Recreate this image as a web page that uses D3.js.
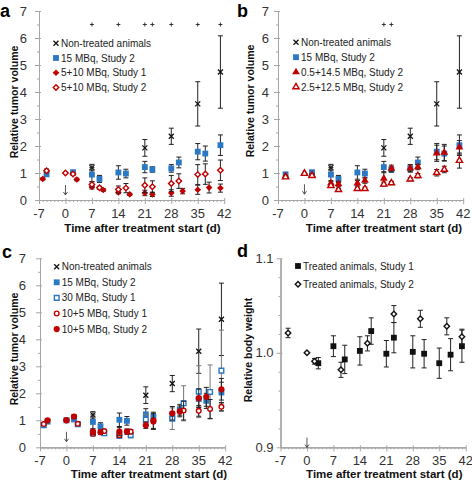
<!DOCTYPE html>
<html><head><meta charset="utf-8">
<script src="https://cdn.jsdelivr.net/npm/d3@7"></script>
<style>
body{margin:0;background:#fff;}
svg{display:block;font-family:"Liberation Sans",Arial,sans-serif;}
</style></head><body>
<svg id="chart" width="472" height="481"></svg>
<script>
// ---------- tick labels ----------
const xTicks = [-7, 0, 7, 14, 21, 28, 35, 42];
const yTicksTumor = [0, 1, 2, 3, 4, 5, 6, 7];
const yTicksWeight = [0.9, 1.0, 1.1];

// ---------- shared series ----------
const nonTreatedDays = [7, 21, 28, 35, 41];
const nonTreated = [1.2, 1.93, 2.36, 3.56, 4.74];
const nonTreatedErr = [0.12, 0.31, 0.3, 0.82, 1.34];

const study2Days = [-5, 2, 7, 9, 14, 16, 21, 23, 28, 30, 35, 37, 41];
const mbq15 = [0.95, 1.03, 0.94, 0.78, 1.02, 0.98, 1.22, 1.13, 1.17, 1.39, 1.79, 1.72, 2.03];
const mbq15Err = [0.05, 0.05, 0.26, 0.13, 0.25, 0.16, 0.21, 0.1, 0.14, 0.2, 0.3, 0.28, 0.38];

// ---------- panel a ----------
const aS1Days = [-6, 3, 7, 10, 14, 17, 21, 23, 28, 31, 35, 38, 41];
const aS1 = [0.78, 0.76, 0.48, 0.37, 0.28, 0.21, 0.26, 0.21, 0.26, 0.33, 0.38, 0.46, 0.44];
const aS1Err = [0.04, 0.05, 0.07, 0.05, 0.05, 0.04, 0.1, 0.08, 0.12, 0.1, 0.17, 0.2, 0.15];
const aS2Days = [-5, 0, 2, 7, 9, 14, 16, 21, 23, 28, 30, 35, 37, 41];
const aS2 = [1.08, 1.0, 0.96, 0.57, 0.45, 0.39, 0.44, 0.55, 0.49, 0.61, 0.7, 0.94, 0.96, 1.1];
const aS2Err = [0.07, 0, 0.05, 0.1, 0.06, 0.13, 0.17, 0.27, 0.22, 0.3, 0.27, 0.37, 0.38, 0.38];
const aSigDays = [7, 14, 21, 23, 28, 35, 41];

// ---------- panel b ----------
const bDays = [-5, 0, 2, 7, 9, 14, 16, 21, 23, 28, 30, 35, 37, 41];
const b05 = [0.88, 1.0, 0.93, 0.62, 0.59, 0.62, 0.72, 0.8, 1.17, 1.18, 1.22, 1.73, 1.76, 1.95];
const b05Err = [0.03, 0, 0.05, 0.1, 0.1, 0.1, 0.1, 0.25, 0.12, 0.12, 0.1, 0.3, 0.3, 0.25];
const b25 = [0.85, 0.98, 0.9, 0.53, 0.38, 0.42, 0.42, 0.58, 0.63, 0.77, 0.9, 1.01, 1.13, 1.46];
const b25Err = [0.03, 0, 0.04, 0.06, 0.05, 0.06, 0.06, 0.08, 0.06, 0.06, 0.08, 0.12, 0.12, 0.28];
const bSigDays = [21, 23];

// ---------- panel c ----------
const c30Days = [-6, 0, 3, 7, 10, 14, 17, 21, 28, 31, 35, 38, 41];
const c30 = [0.82, 1.0, 0.86, 0.52, 0.52, 0.43, 0.45, 1.02, 1.06, 1.63, 2.06, 2.05, 2.84];
const c30Err = [0.04, 0, 0.05, 0.08, 0.08, 0.1, 0.1, 0.2, 0.4, 0.65, 0.96, 1.0, 1.5];
const c105S1Days = [-6, 0, 3, 7, 10, 14, 17, 23, 31, 35, 38, 41];
const c105S1 = [0.86, 1.0, 0.87, 0.5, 0.6, 0.45, 0.58, 1.0, 1.36, 1.35, 1.42, 1.5];
const c105S1Err = [0.03, 0, 0.04, 0.08, 0.06, 0.08, 0.08, 0.3, 0.35, 0.2, 0.35, 0.15];
const c105S2Days = [-5, 0, 2, 7, 9, 14, 16, 21, 23, 28, 30, 35, 37, 41];
const c105S2 = [1.0, 1.0, 1.14, 0.58, 0.56, 0.58, 0.58, 0.82, 0.96, 1.26, 1.33, 1.82, 1.87, 2.15];
const c105S2Err = [0.05, 0, 0.07, 0.1, 0.08, 0.15, 0.1, 0.12, 0.3, 0.25, 0.2, 0.35, 0.35, 0.4];

// ---------- panel d ----------
const dS1Days = [3, 7, 10, 14, 17, 21, 23, 28, 31, 35, 38, 41];
const dS1 = [0.989, 1.007, 0.993, 1.002, 1.023, 0.999, 1.016, 1.001, 0.999, 0.989, 0.998, 1.007];
const dS1Err = [0.006, 0.011, 0.015, 0.015, 0.014, 0.014, 0.016, 0.017, 0.015, 0.016, 0.017, 0.017];
const dS2Days = [-5, 0, 2, 9, 16, 23, 30, 37, 41];
const dS2 = [1.021, 1.0, 0.991, 0.982, 1.010, 1.041, 1.036, 1.028, 1.017];
const dS2Err = [0.005, 0, 0.003, 0.008, 0.008, 0.009, 0.009, 0.009, 0.008];

// ---------- styling ----------
const BLUE = "#2B78C5", RED = "#C00000", BLACK = "#111";
const AXIS = "#A6A6A6", TXT = "#333";

function ser(label, days, vals, errs, marker, color, errColor) {
  return {label, pts: days.map((d, i) => ({d, v: vals[i], e: errs[i]})), marker, color, errColor: errColor || "#222"};
}

const svg = d3.select("#chart");

function drawMarker(g, type, cx, cy, color) {
  const open = type.endsWith("Open");
  const base = type.replace("Open", "");
  if (base === "x") {
    const s = 2.5;
    g.append("path").attr("d", `M${cx - s},${cy - s}L${cx + s},${cy + s}M${cx - s},${cy + s}L${cx + s},${cy - s}`)
      .attr("stroke", color).attr("stroke-width", 1.3).attr("fill", "none");
    return;
  }
  let sym, size, rot = 0;
  if (base === "square") { sym = d3.symbolSquare; size = open ? 22 : 34; }
  else if (base === "diamond") { sym = d3.symbolSquare; size = open ? 15 : 22; rot = 45; }
  else if (base === "triangle") { sym = d3.symbolTriangle; size = open ? 17 : 26; }
  else { sym = d3.symbolCircle; size = open ? 17 : 30; }
  const p = g.append("path").attr("d", d3.symbol(sym, size)())
    .attr("transform", `translate(${cx},${cy}) rotate(${rot})`);
  if (open) p.attr("fill", "#fff").attr("stroke", color).attr("stroke-width", 1.4);
  else p.attr("fill", color);
}

function panel(cfg) {
  const g = svg.append("g");
  const x = d3.scaleLinear().domain([-7, 42]).range([cfg.x0, cfg.x0 + 185.2]);
  const y = d3.scaleLinear().domain(cfg.yDomain).range([cfg.yBottom, cfg.yTop]);

  // x axis
  const minorX = d3.range(-7, 43).filter(d => !xTicks.includes(d));
  g.append("g").attr("transform", `translate(0,${cfg.yBottom})`)
    .call(d3.axisBottom(x).tickValues(minorX).tickSize(2).tickSizeOuter(0).tickFormat(""));
  g.append("g").attr("transform", `translate(0,${cfg.yBottom})`)
    .call(d3.axisBottom(x).tickValues(xTicks).tickSize(-2).tickSizeOuter(0).tickFormat(""));
  g.append("g").attr("transform", `translate(0,${cfg.yBottom})`)
    .call(d3.axisBottom(x).tickValues(xTicks).tickSize(4).tickSizeOuter(0).tickFormat(""));
  // y axis
  g.append("g").attr("transform", `translate(${cfg.x0},0)`)
    .call(d3.axisLeft(y).tickValues(cfg.yMinor).tickSize(2).tickSizeOuter(0).tickFormat(""));
  g.append("g").attr("transform", `translate(${cfg.x0},0)`)
    .call(d3.axisLeft(y).tickValues(cfg.yTicks).tickSize(-2).tickSizeOuter(0).tickFormat(""));
  g.append("g").attr("transform", `translate(${cfg.x0},0)`)
    .call(d3.axisLeft(y).tickValues(cfg.yTicks).tickSize(4).tickSizeOuter(0).tickFormat(""));
  g.selectAll(".domain").attr("stroke", AXIS);
  g.selectAll(".tick line").attr("stroke", AXIS);

  // tick labels
  g.append("g").selectAll("text").data(xTicks).join("text")
    .attr("x", d => x(d)).attr("y", cfg.yBottom + 18).attr("text-anchor", "middle")
    .attr("font-size", 13).attr("fill", TXT).text(d => d);
  g.append("g").selectAll("text").data(cfg.yTicks).join("text")
    .attr("x", cfg.x0 - 4 - cfg.yPad).attr("y", d => y(d)).attr("dy", "0.36em").attr("text-anchor", "end")
    .attr("font-size", 13).attr("fill", TXT).text(cfg.yFormat);

  // titles
  g.append("text").attr("x", cfg.xTitle[0]).attr("y", cfg.xTitle[1]).attr("text-anchor", "middle")
    .attr("font-weight", "bold").attr("font-size", 11.5).attr("fill", "#111")
    .text("Time after treatment start (d)");
  g.append("text").attr("transform", `translate(${cfg.yTitle[0]},${cfg.yTitle[1]}) rotate(-90)`)
    .attr("text-anchor", "middle").attr("dy", "0.35em")
    .attr("font-weight", "bold").attr("font-size", 10.5).attr("fill", "#111").text(cfg.yLabel);
  g.append("text").attr("x", cfg.letter[0]).attr("y", cfg.letter[1]).attr("font-weight", "bold")
    .attr("font-size", 18).attr("fill", "#000").text(cfg.id);

  // arrow at treatment start
  const ax = x(0), ay = y(cfg.arrowY);
  g.append("path").attr("d", `M${ax},${ay - 5}L${ax},${ay + 5}M${ax - 2},${ay + 2}L${ax},${ay + 5}L${ax + 2},${ay + 2}`)
    .attr("stroke", "#444").attr("stroke-width", 0.9).attr("fill", "none");

  // significance marks
  (cfg.sig || []).forEach(d => {
    const sx = x(d), sy = y(6.5);
    g.append("path").attr("d", `M${sx - 2},${sy}L${sx + 2},${sy}M${sx},${sy - 2}L${sx},${sy + 2}`)
      .attr("stroke", "#222").attr("stroke-width", 0.9);
  });

  // series
  cfg.series.forEach(s => {
    const sg = g.append("g");
    s.pts.forEach(p => {
      if (p.e > 0) {
        const px = x(p.d), y1 = y(p.v + p.e), y2 = y(p.v - p.e);
        sg.append("path").attr("d", `M${px},${y1}L${px},${y2}M${px - 2.5},${y1}L${px + 2.5},${y1}M${px - 2.5},${y2}L${px + 2.5},${y2}`)
          .attr("stroke", s.errColor).attr("stroke-width", 1).attr("fill", "none");
      }
    });
    s.pts.forEach(p => drawMarker(sg, s.marker, x(p.d), y(p.v), s.color));
  });

  // legend
  cfg.series.forEach((s, i) => {
    const ly = cfg.legend[1] + i * cfg.legendStep;
    drawMarker(g, s.marker, cfg.legend[0], ly, s.color);
    g.append("text").attr("x", cfg.legend[0] + 5).attr("y", ly).attr("dy", "0.35em")
      .attr("font-size", 10).attr("fill", "#222").text(s.label);
  });
}

const tumorMinor = d3.range(0, 7).map(i => i + 0.5);
const weightMinor = d3.range(46, 55).map(i => Math.round(i * 2) / 100).filter(v => Math.abs(v - 1) > 1e-9);

const nt = () => ser("Non-treated animals", nonTreatedDays, nonTreated, nonTreatedErr, "x", BLACK);
const b15 = () => ser("15 MBq, Study 2", study2Days, mbq15, mbq15Err, "square", BLUE);

panel({
  id: "a", x0: 39, yBottom: 200, yTop: 11, yDomain: [0, 7], yTicks: yTicksTumor, yMinor: tumorMinor,
  yPad: 8, yFormat: d3.format("d"), xTitle: [142.5, 232], yTitle: [14, 102], yLabel: "Relative tumor volume",
  letter: [0, 16.5], arrowY: 0.37, sig: aSigDays, legend: [56, 43.3], legendStep: 14.7,
  series: [nt(), b15(),
    ser("5+10 MBq, Study 1", aS1Days, aS1, aS1Err, "diamond", RED),
    ser("5+10 MBq, Study 2", aS2Days, aS2, aS2Err, "diamondOpen", RED)]
});
panel({
  id: "b", x0: 278, yBottom: 200, yTop: 11, yDomain: [0, 7], yTicks: yTicksTumor, yMinor: tumorMinor,
  yPad: 5, yFormat: d3.format("d"), xTitle: [384, 232], yTitle: [250, 101], yLabel: "Relative tumor volume",
  letter: [237, 16.5], arrowY: 0.4, sig: bSigDays, legend: [296, 42.3], legendStep: 14.9,
  series: [nt(), b15(),
    ser("0.5+14.5 MBq, Study 2", bDays, b05, b05Err, "triangle", RED),
    ser("2.5+12.5 MBq, Study 2", bDays, b25, b25Err, "triangleOpen", RED)]
});
panel({
  id: "c", x0: 40, yBottom: 447.3, yTop: 258.3, yDomain: [0, 7], yTicks: yTicksTumor, yMinor: tumorMinor,
  yPad: 10, yFormat: d3.format("d"), xTitle: [149, 477.5], yTitle: [14, 349], yLabel: "Relative tumor volume",
  letter: [2, 257.5], arrowY: 0.39, legend: [56.7, 266.7], legendStep: 15.6,
  series: [nt(), b15(),
    ser("30 MBq, Study 1", c30Days, c30, c30Err, "squareOpen", BLUE, "#777"),
    ser("10+5 MBq, Study 1", c105S1Days, c105S1, c105S1Err, "circleOpen", RED),
    ser("10+5 MBq, Study 2", c105S2Days, c105S2, c105S2Err, "circle", RED)]
});
panel({
  id: "d", x0: 280.5, yBottom: 447.3, yTop: 258.3, yDomain: [0.9, 1.1], yTicks: yTicksWeight, yMinor: weightMinor,
  yPad: 3, yFormat: d3.format(".1f"), xTitle: [384.3, 477.5], yTitle: [248, 350], yLabel: "Relative body weight",
  letter: [237, 256.5], arrowY: 0.905, legend: [298, 266], legendStep: 18.3,
  series: [
    ser("Treated animals, Study 1", dS1Days, dS1, dS1Err, "square", BLACK),
    ser("Treated animals, Study 2", dS2Days, dS2, dS2Err, "diamondOpen", BLACK)]
});
</script>
</body></html>
